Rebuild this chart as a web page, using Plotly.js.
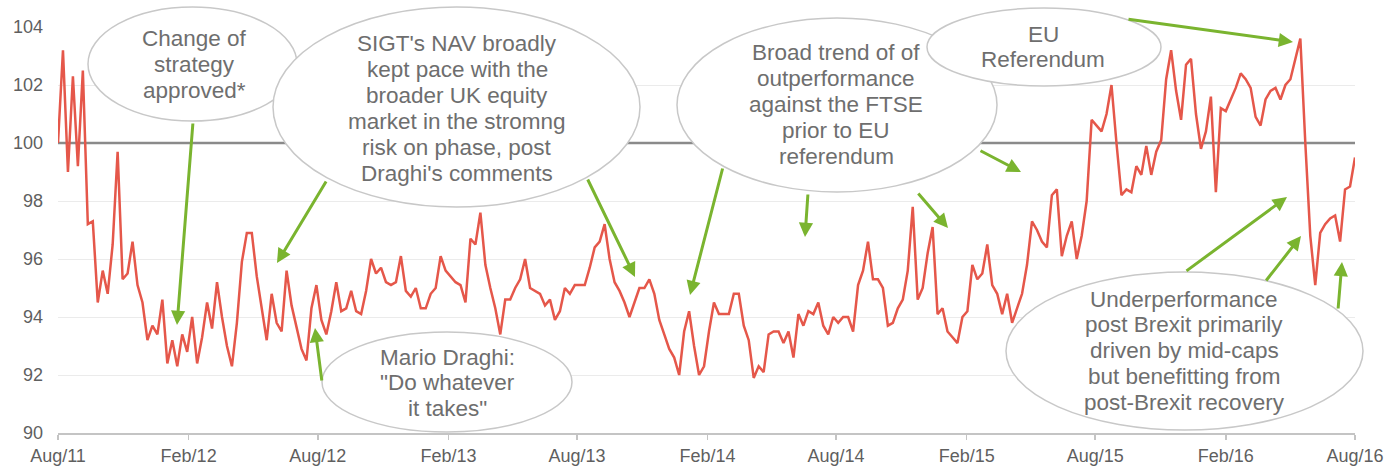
<!DOCTYPE html>
<html>
<head>
<meta charset="utf-8">
<script src="https://cdn.plot.ly/plotly-3.0.1.min.js"></script>
<style>
  html, body { margin: 0; padding: 0; background: #ffffff; }
  #chart { width: 1387px; height: 466px; }
</style>
</head>
<body>
<div id="chart"></div>
<script>
// ---------------- DATA ----------------
const startDate = '2011-08-01';
const endDate = '2016-08-01';
const benchmarkLevel = 100;
const yTicks = [90, 92, 94, 96, 98, 100, 102, 104];

// SIGT NAV relative to FTSE (rebased to 100), one reading per week from Aug/11
const navWeekly = [
  100.0, 103.2, 99.0, 102.3, 99.2, 102.5, 97.2, 97.3, 94.5, 95.6, 94.8, 96.5, 99.7, 95.3, 95.5, 96.6, 95.1, 94.5,
  93.2, 93.7, 93.4, 94.6, 92.4, 93.2, 92.3, 93.4, 92.8, 94.0, 92.4, 93.3, 94.5, 93.6, 95.2,
  94.0, 93.0, 92.3, 93.8, 95.9, 96.9, 96.9, 95.4, 94.3, 93.2, 94.8, 93.8, 93.5, 95.6, 94.4, 93.6, 92.9, 92.5,
  94.3, 95.1, 93.9, 93.4, 94.2, 95.2, 94.2, 94.3, 94.9, 94.2, 94.1, 94.9, 96.0, 95.5, 95.7,
  95.2, 95.1, 95.2, 96.1, 94.9, 94.7, 95.0, 94.3, 94.3, 94.8, 95.0, 96.1, 95.6, 95.4, 95.2, 95.1,
  94.5, 96.7, 96.5, 97.6, 95.8, 95.0, 94.3, 93.4, 94.6, 94.6, 95.0, 95.3, 96.0, 95.0, 94.9, 94.8,
  94.4, 94.6, 93.9, 94.2, 95.0, 94.8, 95.1, 95.1, 95.1, 95.7, 96.4, 96.6, 97.2, 96.0, 95.2, 94.9, 94.5,
  94.0, 94.5, 95.0, 95.0, 95.3, 94.8, 93.9, 93.4, 92.9, 92.6, 92.0, 93.5, 94.2, 93.0, 92.0, 92.3,
  93.5, 94.5, 94.1, 94.1, 94.1, 94.8, 94.8, 93.7, 93.2, 91.9, 92.3, 92.1, 93.4, 93.5, 93.5, 93.1, 93.5,
  92.6, 94.1, 93.7, 94.2, 94.1, 94.5, 93.7, 93.4, 94.0, 93.8, 94.0, 94.0, 93.5, 95.1, 95.6, 96.6,
  95.3, 95.3, 95.0, 93.7, 93.8, 94.3, 94.6, 95.6, 97.8, 94.6, 95.0, 96.2, 97.1, 94.1, 94.3, 93.5,
  93.3, 93.1, 94.0, 94.2, 95.8, 95.3, 95.5, 96.5, 95.1, 94.8, 94.1, 94.8, 93.8, 94.3, 94.8, 95.8,
  97.3, 97.0, 96.6, 96.4, 98.2, 98.4, 96.1, 96.8, 97.3, 96.0, 96.8, 98.0, 100.8, 100.6, 100.4, 101.0,
  102.0, 100.0, 98.2, 98.4, 98.3, 99.2, 98.9, 99.9, 98.9, 99.7, 100.1, 102.2, 103.2, 101.8, 100.8, 102.7, 102.9,
  101.0, 99.8, 100.4, 101.6, 98.3, 101.2, 101.1, 101.5, 101.9, 102.4, 102.2, 101.9, 100.9, 100.6, 101.5, 101.8,
  101.9, 101.5, 102.0, 102.2, 102.9, 103.6, 100.0, 96.8, 95.1, 96.9, 97.2, 97.4, 97.5, 96.6, 98.4, 98.5, 99.5
];

// Callout texts
const calloutStrategy = ['Change of', 'strategy', 'approved*'];
const calloutPace = ["SIGT's NAV broadly", 'kept pace with the', 'broader UK equity', 'market in the stromng', 'risk on phase, post', "Draghi's comments"];
const calloutDraghi = ['Mario Draghi:', '"Do whatever', 'it takes"'];
const calloutTrend = ['Broad trend of of', 'outperformance', 'against the FTSE', 'prior to EU', 'referendum'];
const calloutReferendum = ['EU', 'Referendum'];
const calloutBrexit = ['Underperformance', 'post Brexit primarily', 'driven by mid-caps', 'but benefitting from', 'post-Brexit recovery'];

// ---------------- LAYOUT HELPERS ----------------
const W = 1387, H = 466;
const M = { l: 58, r: 32, t: 27, b: 33 };
const PW = W - M.l - M.r, PH = H - M.t - M.b;
const px = x => (x - M.l) / PW;           // pixel -> paper x
const py = y => (H - M.b - y) / PH;       // pixel -> paper y

function addDays(iso, d) {
  const t = new Date(iso + 'T00:00:00Z');
  t.setUTCDate(t.getUTCDate() + d);
  return t.toISOString().slice(0, 10);
}
const dates = navWeekly.map((_, i) => addDays(startDate, 7 * i));

const GREEN = '#7ab42f';
const TEXT_GREY = '#6e6e6e';
const FONT = '"Liberation Sans", Arial, Helvetica, sans-serif';

// callout geometry (pixels): ellipse box, text centre x, first text baseline
const callouts = [
  { lines: calloutStrategy,   box: [88, 7, 297, 121],    cx: 194,  base: 47 },
  { lines: calloutPace,       box: [273, 7, 640, 207],   cx: 457,  base: 51.7 },
  { lines: calloutDraghi,     box: [322, 332, 572, 432], cx: 447,  base: 365 },
  { lines: calloutTrend,      box: [677, 18, 997, 192],  cx: 836,  base: 60.7 },
  { lines: calloutReferendum, box: [927, 8, 1161, 86],   cx: 1043, base: 42 },
  { lines: calloutBrexit,     box: [1006, 272, 1363, 430], cx: 1184, base: 307 }
];
const LINE_STEP = 25.9;

const shapes = callouts.map(c => ({
  type: 'circle', xref: 'paper', yref: 'paper', layer: 'above',
  x0: px(c.box[0]), x1: px(c.box[2]), y0: py(c.box[3]), y1: py(c.box[1]),
  fillcolor: '#ffffff', line: { color: '#c8c8c8', width: 1.5 }
}));

const annotations = [];
callouts.forEach(c => {
  c.lines.forEach((t, k) => {
    annotations.push({
      xref: 'paper', yref: 'paper', x: px(c.cx), y: py(c.base + k * LINE_STEP - 8),
      xanchor: 'center', yanchor: 'middle', showarrow: false, text: t,
      font: { family: FONT, size: 22.5, color: TEXT_GREY }
    });
  });
});

// arrows: [headX, headY, tailX, tailY] in pixels
const arrows = [
  [177, 325, 193, 122],
  [277, 263, 327, 180],
  [315, 328, 322, 382],
  [635, 277, 587, 178],
  [690, 295, 723, 167],
  [805, 237, 808, 193],
  [948, 228, 917, 192],
  [1021, 172, 979, 150],
  [1293, 42, 1127, 19],
  [1287, 197, 1185, 272],
  [1301, 236, 1265, 282],
  [1342, 262, 1338, 310]
];
arrows.forEach(a => {
  annotations.push({
    xref: 'paper', yref: 'paper', x: px(a[0]), y: py(a[1]),
    ax: a[2] - a[0], ay: a[3] - a[1], axref: 'pixel', ayref: 'pixel',
    text: '', showarrow: true, arrowhead: 2, arrowsize: 0.95, arrowwidth: 3,
    arrowcolor: GREEN, standoff: 0, startstandoff: 0
  });
});

const traces = [
  {
    x: [startDate, endDate], y: [benchmarkLevel, benchmarkLevel],
    mode: 'lines', line: { color: '#8a8a8a', width: 2.5 }, hoverinfo: 'skip'
  },
  {
    x: dates, y: navWeekly, mode: 'lines',
    line: { color: '#e5574a', width: 2.5 }, hoverinfo: 'skip'
  }
];

const layout = {
  width: W, height: H,
  margin: { l: M.l, r: M.r, t: M.t, b: M.b, pad: 0 },
  paper_bgcolor: '#ffffff', plot_bgcolor: '#ffffff',
  showlegend: false,
  font: { family: FONT, size: 18, color: '#5f5f5f' },
  xaxis: {
    type: 'date', range: [startDate, endDate], tick0: startDate, dtick: 'M6',
    tickformat: '%b/%y', showgrid: false, zeroline: false,
    showline: true, linecolor: '#c4c4c4', linewidth: 2,
    ticks: 'outside', ticklen: 5, tickwidth: 1.5, tickcolor: '#c4c4c4',
    tickfont: { family: FONT, size: 18, color: '#5f5f5f' }
  },
  yaxis: {
    range: [90, 104], tickvals: yTicks, ticktext: yTicks.map(String),
    showgrid: true, gridcolor: '#ebebeb', gridwidth: 1,
    zeroline: false, showline: false, ticks: '',
    ticklabelstandoff: 14,
    tickfont: { family: FONT, size: 18, color: '#5f5f5f' }
  },
  shapes: shapes,
  annotations: annotations
};

Plotly.newPlot('chart', traces, layout, { staticPlot: true, displayModeBar: false });
</script>
</body>
</html>
